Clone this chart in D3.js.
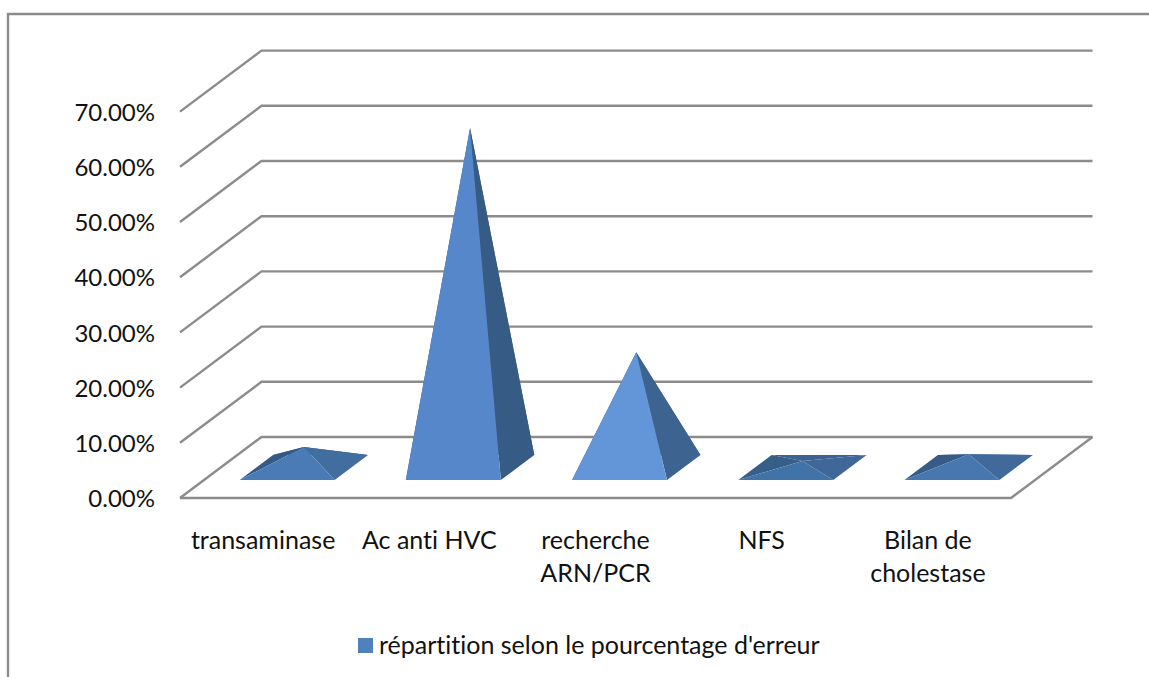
<!DOCTYPE html>
<html>
  <head>
    <meta charset="utf-8" />
    <title>répartition selon le pourcentage d'erreur</title>
    <script src="https://d3js.org/d3.v7.min.js"></script>
    <style>
      html, body {
        margin: 0;
        background: #fff;
        overflow: hidden;
      }
      text {
        font-family: Lato, "Open Sans", sans-serif;
        font-size: 25px;
        font-variant-ligatures: none;
        fill: #111;
      }
      .ticks text {
        font-size: 24px;
      }
      .grid {
        fill: none;
        stroke: #8c8c8c;
        stroke-width: 2.4px;
      }
    </style>
  </head>
  <body>
    <svg id="chart" width="1149" height="677"></svg>
    <script>
      const categories = ["transaminase", "Ac anti HVC", "recherche ARN/PCR", "NFS", "Bilan de cholestase"];
      const labelLines = [["transaminase"], ["Ac anti HVC"], ["recherche", "ARN/PCR"], ["NFS"], ["Bilan de", "cholestase"]];
      const errorShare = [0.037, 0.615, 0.209, 0.012, 0.024];
      const tickValues = [0, 0.1, 0.2, 0.3, 0.4, 0.5, 0.6, 0.7];
      const legendLabel = "répartition selon le pourcentage d'erreur";

      // face colours per pyramid, the shading changes with the slope
      const frontColors = ["#4a7bb6", "#5687ca", "#6296d8", "#4172a8", "#4877b0"];
      const rightColors = ["#426d9f", "#365b85", "#3d6390", "#3f6899", "#41699c"];
      const leftColors = ["#355a85", "#355a85", "#355a85", "#375d89", "#365b87"];
      const backColors = ["#355a85", "#355a85", "#355a85", "#3a6292", "#3f6798"];

      const svg = d3.select("#chart");

      // frame of the chart object, cut by the picture on the right and bottom
      svg.append("path").attr("class", "grid").attr("d", "M8,677V14H1149");

      const x = d3.scaleBand().domain(categories).range([180, 1011]);
      const y = d3.scaleLinear().domain([0, 0.7]).range([498, 111.6]);
      const depthX = 81.5;
      const depthY = -61;

      // d is the position in depth, 0 = front of the floor, 1 = back wall
      const project = (px, value, d) => [px + d * depthX, y(value) + d * depthY];

      // walls and floor
      const walls = svg.append("g");
      walls
        .selectAll("path.wall")
        .data(tickValues)
        .join("path")
        .attr("class", "grid wall")
        .attr("d", (d) =>
          d3.line()([project(180, d, 0), project(180, d, 1), project(1011, d, 1)])
        );
      walls
        .append("path")
        .attr("class", "grid")
        .attr("d", d3.line()([project(180, 0, 0), project(1011, 0, 0), project(1011, 0, 1)]));

      // pyramids
      const halfBase = 47.5;
      const frontD = 0.295;
      const backD = 0.705;
      const tri = (pts) => d3.line()(pts) + "Z";

      const pyramids = svg
        .selectAll("g.pyramid")
        .data(categories)
        .join("g")
        .attr("class", "pyramid");

      pyramids.each(function (cat, i) {
        const g = d3.select(this);
        const cx = x(cat) + x.bandwidth() / 2;
        const fl = project(cx - halfBase, 0, frontD);
        const fr = project(cx + halfBase, 0, frontD);
        const bl = project(cx - halfBase, 0, backD);
        const br = project(cx + halfBase, 0, backD);
        const apex = project(cx, errorShare[i], 0.5);
        const faces = [
          [[bl, br, apex], backColors[i]],
          [[fl, bl, apex], leftColors[i]],
          [[fr, br, apex], rightColors[i]],
          [[fl, fr, apex], frontColors[i]],
        ];
        g.selectAll("path")
          .data(faces)
          .join("path")
          .attr("d", (f) => tri(f[0]))
          .attr("fill", (f) => f[1]);
      });

      // value axis
      const yAxis = svg
        .append("g")
        .attr("class", "ticks")
        .attr("transform", "translate(155,1)")
        .call(d3.axisLeft(y).tickValues(tickValues).tickFormat(d3.format(".2%")).tickSize(0).tickPadding(0));
      yAxis.select(".domain").remove();
      yAxis.attr("font-family", null).attr("font-size", null);

      // category labels, some on two lines
      const xAxis = svg
        .append("g")
        .attr("transform", "translate(0,541)")
        .call(d3.axisBottom(x).tickSize(0).tickPadding(0).tickFormat(""));
      xAxis.select(".domain").remove();
      xAxis.attr("font-family", null).attr("font-size", null);
      xAxis
        .selectAll(".tick text")
        .attr("y", 0)
        .attr("dy", null)
        .each(function (d, i) {
          d3.select(this)
            .selectAll("tspan")
            .data(labelLines[i])
            .join("tspan")
            .attr("x", 0)
            .attr("y", (l, k) => k * 33 + 8)
            .text((l) => l);
        });

      // legend
      svg.append("rect").attr("x", 358).attr("y", 638).attr("width", 15).attr("height", 15).attr("fill", "#4f81bd");
      svg.append("text").attr("x", 379).attr("y", 654).text(legendLabel);
    </script>
  </body>
</html>
